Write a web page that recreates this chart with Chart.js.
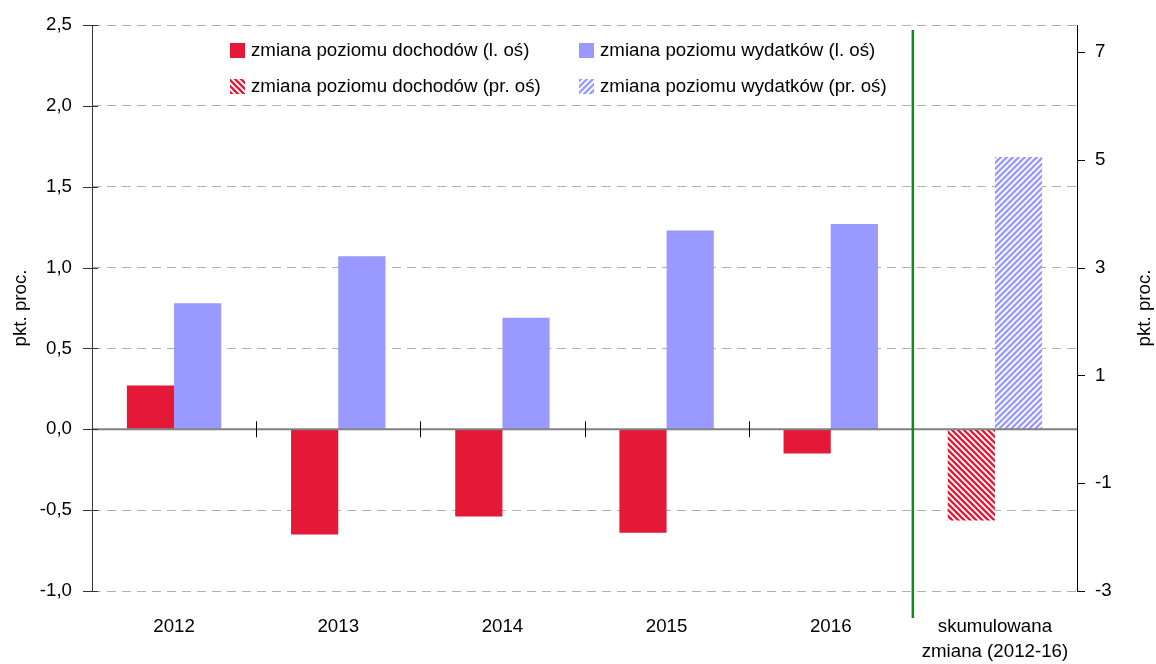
<!DOCTYPE html>
<html>
<head>
<meta charset="utf-8">
<script src="https://cdn.jsdelivr.net/npm/chart.js@4.4.1/dist/chart.umd.min.js"></script>
<style>
html, body { margin: 0; padding: 0; background: #fff; }
#wrap { width: 1156px; height: 664px; }
</style>
</head>
<body>
<div id="wrap"><canvas id="wykres" width="1156" height="664"></canvas></div>
<script>
// dane
const kategorie = ['2012', '2013', '2014', '2015', '2016', ['skumulowana', 'zmiana (2012-16)']];
const dochodyLewa = [0.27, -0.65, -0.54, -0.64, -0.15, null];
const wydatkiLewa = [0.78, 1.07, 0.69, 1.23, 1.27, null];
const dochodyPrawa = [null, null, null, null, null, -1.69];
const wydatkiPrawa = [null, null, null, null, null, 5.05];
const tickiLewe = [-1, -0.5, 0, 0.5, 1, 1.5, 2, 2.5];
const tickiPrawe = [-3, -1, 1, 3, 5, 7];

const CZERWONY = '#e31937';
const NIEBIESKI = '#9999ff';
const FONT = "'Liberation Sans', Arial, sans-serif";
const ROZMIAR = 18.7;

// wzór kreskowany
function kreski(kolor, wPrawo) {
    const s = 6;
    const c = document.createElement('canvas');
    c.width = s; c.height = s;
    const g = c.getContext('2d');
    g.fillStyle = '#fff';
    g.fillRect(0, 0, s, s);
    g.strokeStyle = kolor;
    g.lineWidth = 2.3;
    g.beginPath();
    if (wPrawo) {
        g.moveTo(-1, 1); g.lineTo(1, -1);
        g.moveTo(0, s); g.lineTo(s, 0);
        g.moveTo(s - 1, s + 1); g.lineTo(s + 1, s - 1);
    } else {
        g.moveTo(0, 0); g.lineTo(s, s);
        g.moveTo(-1, s - 1); g.lineTo(1, s + 1);
        g.moveTo(s - 1, -1); g.lineTo(s + 1, 1);
    }
    g.stroke();
    return g.createPattern(c, 'repeat');
}

const wzorCzerwony = kreski(CZERWONY, false);
const wzorNiebieski = kreski(NIEBIESKI, true);

Chart.defaults.font.family = FONT;
Chart.defaults.font.size = ROZMIAR;
Chart.defaults.color = '#000';

const dodatki = {
    id: 'dodatki',
    afterDatasetsDraw(chart) {
        const ctx = chart.ctx;
        const a = chart.chartArea;
        const x = chart.scales.x;
        const y = chart.scales.y;
        const y2 = chart.scales.y2;
        const zero = y.getPixelForValue(0);
        ctx.save();

        // linia zera
        ctx.strokeStyle = '#808080';
        ctx.lineWidth = 2;
        ctx.beginPath();
        ctx.moveTo(a.left, zero); ctx.lineTo(a.right, zero);
        ctx.stroke();

        // znaczniki kategorii
        ctx.strokeStyle = '#000';
        ctx.lineWidth = 1;
        ctx.beginPath();
        for (let i = 0; i < kategorie.length - 1; i++) {
            const px = Math.round((x.getPixelForValue(i) + x.getPixelForValue(i + 1)) / 2) + 0.5;
            ctx.moveTo(px, zero - 8); ctx.lineTo(px, zero + 8);
        }
        ctx.stroke();

        // oś lewa
        ctx.strokeStyle = '#333';
        ctx.beginPath();
        ctx.moveTo(a.left + 0.5, a.top); ctx.lineTo(a.left + 0.5, a.bottom);
        for (const t of tickiLewe) {
            const py = Math.round(y.getPixelForValue(t)) + 0.5;
            ctx.moveTo(a.left - 9, py); ctx.lineTo(a.left + 6, py);
        }
        ctx.stroke();

        // oś prawa
        ctx.strokeStyle = '#000';
        ctx.beginPath();
        ctx.moveTo(a.right + 0.5, a.top); ctx.lineTo(a.right + 0.5, a.bottom);
        for (const t of tickiPrawe) {
            const py = Math.round(y2.getPixelForValue(t)) + 0.5;
            ctx.moveTo(a.right, py); ctx.lineTo(a.right + 8, py);
        }
        ctx.stroke();

        // zielona linia podziału
        const gx = (x.getPixelForValue(4) + x.getPixelForValue(5)) / 2;
        ctx.strokeStyle = '#138a13';
        ctx.lineWidth = 2.5;
        ctx.beginPath();
        ctx.moveTo(gx, a.top + 5); ctx.lineTo(gx, a.bottom + 27);
        ctx.stroke();

        // tytuły osi
        ctx.fillStyle = '#000';
        ctx.font = ROZMIAR + 'px ' + FONT;
        ctx.textAlign = 'center';
        ctx.textBaseline = 'middle';
        for (const tx of [21, 1145]) {
            ctx.save();
            ctx.translate(tx, (a.top + a.bottom) / 2);
            ctx.rotate(-Math.PI / 2);
            ctx.fillText('pkt. proc.', 0, 0);
            ctx.restore();
        }

        // legenda
        ctx.textAlign = 'left';
        const kolumny = [230, 579];
        const wiersze = [43, 79];
        chart.data.datasets.forEach((ds, i) => {
            const lx = kolumny[i % 2];
            const ly = wiersze[Math.floor(i / 2)];
            ctx.fillStyle = ds.backgroundColor;
            ctx.fillRect(lx, ly, 15, 15);
            ctx.fillStyle = '#000';
            ctx.fillText(ds.label, lx + 21, ly + 8);
        });
        ctx.restore();
    }
};

const wspolne = { borderWidth: 0, skipNull: true, categoryPercentage: 0.575, barPercentage: 1 };

new Chart(document.getElementById('wykres').getContext('2d'), {
    type: 'bar',
    data: {
        labels: kategorie,
        datasets: [
            { label: 'zmiana poziomu dochodów (l. oś)', data: dochodyLewa, backgroundColor: CZERWONY, yAxisID: 'y', ...wspolne },
            { label: 'zmiana poziomu wydatków (l. oś)', data: wydatkiLewa, backgroundColor: NIEBIESKI, yAxisID: 'y', ...wspolne },
            { label: 'zmiana poziomu dochodów (pr. oś)', data: dochodyPrawa, backgroundColor: wzorCzerwony, yAxisID: 'y2', ...wspolne },
            { label: 'zmiana poziomu wydatków (pr. oś)', data: wydatkiPrawa, backgroundColor: wzorNiebieski, yAxisID: 'y2', ...wspolne }
        ]
    },
    options: {
        responsive: false,
        animation: false,
        layout: { padding: { top: 25, bottom: 0, left: 0, right: 0 } },
        plugins: { legend: { display: false }, tooltip: { enabled: false } },
        scales: {
            x: {
                grid: { display: false, drawTicks: false },
                border: { display: false },
                ticks: { padding: 23, maxRotation: 0, autoSkip: false, font: { size: ROZMIAR, lineHeight: 1.34 } },
                afterFit: s => { s.height = 73; }
            },
            y: {
                position: 'left',
                min: -1,
                max: 2.5,
                afterBuildTicks: s => { s.ticks = tickiLewe.map(v => ({ value: v })); },
                grid: { color: c => (c.tick && c.tick.value === 0) ? 'rgba(0,0,0,0)' : '#b0b0b0', drawTicks: false, lineWidth: 1 },
                border: { display: false, dash: [9, 6] },
                ticks: { padding: 20, callback: v => v.toFixed(1).replace('.', ',') },
                afterFit: s => { s.width = 92; s.paddingTop = 0; s.paddingBottom = 0; }
            },
            y2: {
                position: 'right',
                min: -3,
                max: 7.5,
                afterBuildTicks: s => { s.ticks = tickiPrawe.map(v => ({ value: v })); },
                grid: { display: false, drawTicks: false },
                border: { display: false },
                ticks: { padding: 18, callback: v => String(v) },
                afterFit: s => { s.width = 79; s.paddingTop = 0; s.paddingBottom = 0; }
            }
        }
    },
    plugins: [dodatki]
});
</script>
</body>
</html>
